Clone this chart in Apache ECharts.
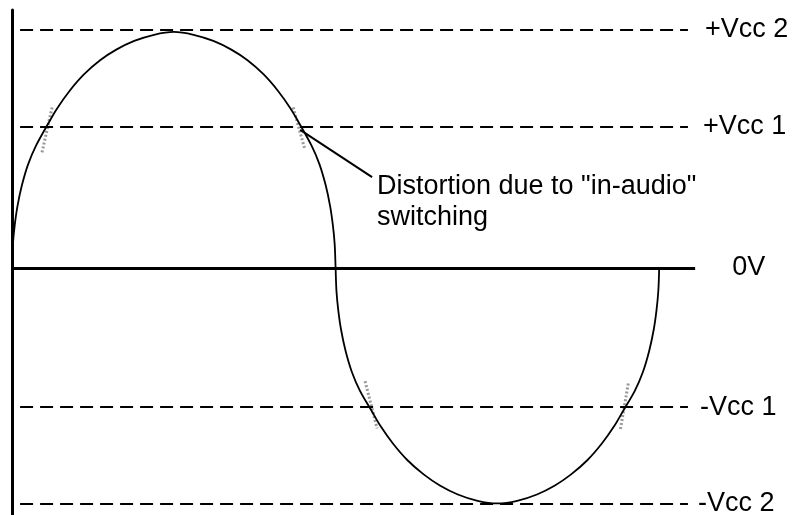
<!DOCTYPE html>
<html>
<head>
<meta charset="utf-8">
<script src="https://cdn.jsdelivr.net/npm/echarts@6/dist/echarts.min.js"></script>
<style>
  html, body { margin: 0; padding: 0; background: #fff; }
  #main { width: 803px; height: 515px; }
</style>
</head>
<body>
<div id="main"></div>
<script>
// phase in degrees, amplitude normalised to the peak
var wavePhase = [0, 0.5, 1.5, 3, 5.5, 9, 13.5, 20, 25, 32, 40, 49, 58, 68, 79, 90,
  101, 112, 122, 131, 140, 148, 155, 160, 166.5, 171, 174.5, 177, 178.5, 179.5, 180,
  180.5, 181.5, 183, 185.5, 189, 193.5, 200, 205, 212, 220, 229, 238, 248, 259, 270,
  281, 292, 302, 311, 320, 328, 335, 340, 346.5, 351, 354.5, 357, 358.5, 359.5, 360];
var waveLevel = [0, 0.1, 0.18, 0.26, 0.35, 0.44, 0.52, 0.61, 0.675, 0.75, 0.82, 0.88, 0.925, 0.962, 0.988, 1.0,
  0.988, 0.962, 0.925, 0.88, 0.82, 0.75, 0.675, 0.61, 0.52, 0.44, 0.35, 0.26, 0.18, 0.1, 0,
  -0.1, -0.18, -0.26, -0.35, -0.44, -0.52, -0.605, -0.67, -0.745, -0.815, -0.875, -0.922, -0.96, -0.987, -0.998,
  -0.987, -0.96, -0.922, -0.875, -0.815, -0.745, -0.67, -0.605, -0.52, -0.44, -0.35, -0.26, -0.18, -0.1, 0];

var levelNames = ["+Vcc 2", "+Vcc 1", "-Vcc 1", "-Vcc 2"];
var levelValues = [1.01, 0.6, -0.59, -1.0];
var labelGaps = [17, 15, 12, 10];
var levelStart = 4.5;
var levelEnd = 376;
var zeroName = "0V";
var zeroEnd = 380;

// stippled distortion marks at the +/-Vcc 1 crossings: [phase, level] pairs
var distortionMarks = [
  [[22.3, 0.68], [16.7, 0.49]],
  [[156.4, 0.68], [163.0, 0.5]],
  [[196.4, -0.48], [203.1, -0.68]],
  [[342.8, -0.49], [338.3, -0.69]]
];
var leaderLine = [[160.3, 0.585], [200.3, 0.385]];
var noteLines = ['Distortion due to "in-audio"', "switching"];

var myChart = echarts.init(document.getElementById("main"));
var labelFont = { color: "#000", fontSize: 27, fontFamily: "Liberation Sans" };

var series = [];
series.push({
  name: "wave",
  type: "line",
  smooth: 0.35,
  symbol: "none",
  lineStyle: { color: "#000", width: 1.8 },
  data: wavePhase.map(function (p, i) { return [p, waveLevel[i]]; }),
  z: 5
});

var levelLines = levelValues.map(function (v, i) {
  var lbl = Object.assign({ show: true, position: "end", formatter: levelNames[i], distance: labelGaps[i] }, labelFont);
  return [{ coord: [levelStart, v], label: lbl }, { coord: [levelEnd, v] }];
});
levelLines.push([{ coord: [0, 0],
  label: Object.assign({ show: true, position: "end", formatter: zeroName, distance: 37 }, labelFont),
  lineStyle: { type: "solid", width: 3 } }, { coord: [zeroEnd, 0] }]);

series.push({
  name: "levels",
  type: "line",
  data: [],
  markLine: {
    silent: true,
    symbol: ["none", "none"],
    animation: false,
    lineStyle: { color: "#000", type: [13, 7], width: 2 },
    data: levelLines
  }
});

distortionMarks.forEach(function (m, i) {
  series.push({
    name: "mark" + i,
    type: "line",
    symbol: "none",
    lineStyle: { color: "#999", type: [2, 2], width: 3 },
    data: m,
    z: 3
  });
});

series.push({
  name: "leader",
  type: "line",
  symbol: "none",
  lineStyle: { color: "#000", width: 2 },
  data: leaderLine,
  z: 4
});

myChart.setOption({
  backgroundColor: "#fff",
  animation: false,
  grid: { left: 12, right: 0, top: 10, bottom: 0 },
  xAxis: {
    type: "value",
    min: 0,
    max: 440,
    axisLine: { show: false },
    axisTick: { show: false },
    axisLabel: { show: false },
    splitLine: { show: false }
  },
  yAxis: {
    type: "value",
    min: -1.047,
    max: 1.093,
    axisLine: { show: true, lineStyle: { color: "#000", width: 3 } },
    axisTick: { show: false },
    axisLabel: { show: false },
    splitLine: { show: false }
  },
  graphic: [{
    type: "text",
    left: 377,
    top: 171,
    style: {
      text: noteLines.join("\n"),
      font: "27px 'Liberation Sans'",
      fill: "#000",
      lineHeight: 31
    }
  }],
  series: series
});
</script>
</body>
</html>
